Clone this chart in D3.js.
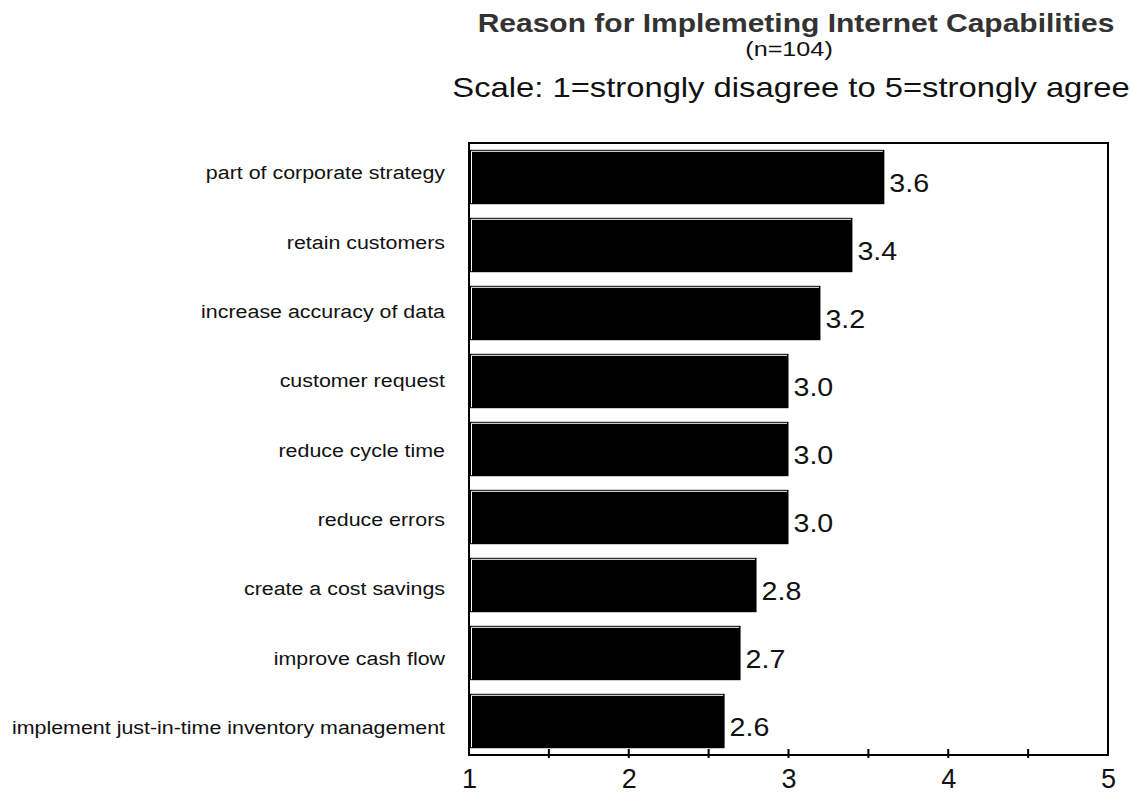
<!DOCTYPE html>
<html>
<head>
<meta charset="utf-8">
<script src="https://cdn.jsdelivr.net/npm/d3@7"></script>
<style>
  body { margin: 0; background: #fff; }
  svg { display: block; font-family: "Liberation Sans", Arial, sans-serif; }
</style>
</head>
<body>
<svg id="chart" width="1131" height="793"></svg>
<script>
// Survey reasons and their mean agreement scores
const categories = [
  "part of corporate strategy",
  "retain customers",
  "increase accuracy of data",
  "customer request",
  "reduce cycle time",
  "reduce errors",
  "create a cost savings",
  "improve cash flow",
  "implement just-in-time inventory management"
];
const scores = [3.6, 3.4, 3.2, 3.0, 3.0, 3.0, 2.8, 2.7, 2.6];
const tickValues = [1, 2, 3, 4, 5];
const minorTicks = [1.5, 2.5, 3.5, 4.5];

const svg = d3.select("#chart");
const plot = { left: 469, right: 1108, top: 143, bottom: 755 };

const x = d3.scaleLinear().domain([1, 5]).range([plot.left, plot.right]);
const y = d3.scaleBand().domain(categories).range([plot.top, plot.bottom]).paddingInner(0.2).paddingOuter(0.1);
// Category labels sit on a slightly wider grid than the bars
const yLabel = d3.scaleBand().domain(categories).range([plot.top - 5, plot.bottom + 7]);

// Text drawn slightly wide: anchor at (ax, ay), stretch horizontally by sx
function wideText(sel, ax, ay, sx) {
  return sel.attr("transform", `translate(${ax},${ay}) scale(${sx},1)`);
}

// Titles
wideText(svg.append("text"), 796, 32, 1.2).attr("text-anchor", "middle")
  .attr("font-size", 25).attr("font-weight", "bold").attr("fill", "#333")
  .text("Reason for Implemeting Internet Capabilities");
wideText(svg.append("text"), 789, 56, 1.2).attr("text-anchor", "middle")
  .attr("font-size", 21).attr("fill", "#111").text("(n=104)");
wideText(svg.append("text"), 791, 97, 1.17).attr("text-anchor", "middle")
  .attr("font-size", 28).attr("fill", "#111").text("Scale: 1=strongly disagree to 5=strongly agree");

// Plot frame
svg.append("rect").attr("x", plot.left).attr("y", plot.top)
  .attr("width", plot.right - plot.left).attr("height", plot.bottom - plot.top)
  .attr("fill", "none").attr("stroke", "#000").attr("stroke-width", 2);

// Bars: black with thin white inset line on top and left edges
const bars = svg.append("g").selectAll("g").data(categories).join("g");
bars.append("rect")
  .attr("x", x(1)).attr("y", d => y(d))
  .attr("width", (d, i) => x(scores[i]) - x(1)).attr("height", y.bandwidth())
  .attr("fill", "#000");
bars.append("path")
  .attr("d", (d, i) => {
    const x0 = x(1) + 2.5, y0 = y(d) + 1.5, x1 = x(scores[i]) - 1.5, y1 = y(d) + y.bandwidth() - 1;
    return `M${x0},${y1}V${y0}H${x1}`;
  })
  .attr("fill", "none").attr("stroke", "#fff").attr("stroke-width", 1);

// Value labels
bars.append("text")
  .attr("transform", (d, i) => `translate(${x(scores[i]) + 5},${y(d) + y.bandwidth() / 2 + 15}) scale(1.1,1)`)
  .attr("font-size", 26).attr("fill", "#111")
  .text((d, i) => scores[i].toFixed(1));

// Category labels
svg.append("g").selectAll("text").data(categories).join("text")
  .attr("transform", d => `translate(445,${yLabel(d) + yLabel.bandwidth() / 2 + 6.5}) scale(1.127,1)`)
  .attr("text-anchor", "end").attr("font-size", 19).attr("fill", "#111")
  .text(d => d);

// X axis with major and minor ticks
const axis = svg.append("g").attr("transform", `translate(0,${plot.bottom})`);
axis.call(d3.axisBottom(x).tickValues(tickValues).tickSize(0).tickPadding(14).tickFormat(d3.format("d")));
axis.select(".domain").remove();
axis.selectAll("text").attr("font-size", 27).attr("fill", "#111").attr("font-family", "Liberation Sans, Arial, sans-serif");
axis.selectAll("line.tk").data(tickValues.slice(1, -1).concat(minorTicks)).join("line")
  .attr("class", "tk")
  .attr("x1", d => x(d)).attr("x2", d => x(d)).attr("y1", -6).attr("y2", 3)
  .attr("stroke", "#000").attr("stroke-width", 2);
</script>
</body>
</html>
